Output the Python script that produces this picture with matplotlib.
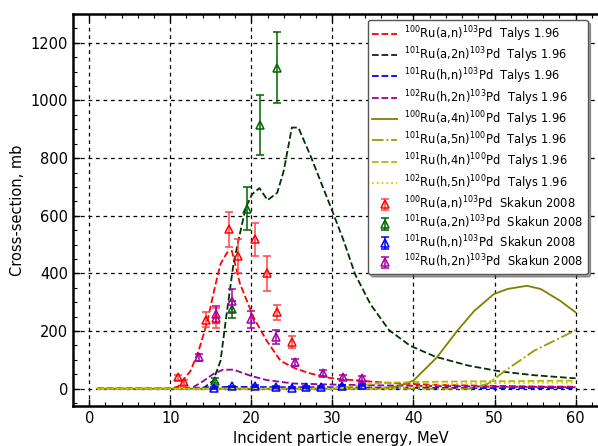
import numpy as np
import matplotlib
matplotlib.use("Agg")
import matplotlib.pyplot as plt
from matplotlib.ticker import MultipleLocator

# ---- TALYS 1.96 excitation functions (energy in MeV, cross-section in mb) ----
e_an = [1, 10, 11, 12.5, 13.5, 14.5, 15.6, 16.2, 17.0, 17.6, 18.6, 20.3, 21.9, 23.6, 25.2, 27, 29.3, 31, 33.5, 35, 38.4, 40, 45, 50, 55, 60]
s_an = [0, 0, 8, 62, 132, 225, 364, 433, 472, 478, 364, 246, 166, 97, 73, 55, 39, 33, 28, 24, 18, 16, 12, 10, 8, 7]

e_a2n = [1, 14, 15.3, 16.2, 17.0, 17.8, 18.4, 19.3, 20.1, 21.0, 22.0, 23.2, 24.0, 25.0, 25.8, 27.3, 29.8, 31.4, 32.8, 34.7, 37.0, 39.6, 42.7, 46.8, 50.7, 54.8, 60]
s_a2n = [0, 0, 28, 97, 270, 433, 513, 628, 675, 696, 654, 680, 756, 906, 906, 808, 630, 513, 397, 293, 203, 149, 111, 80, 60, 47, 36]

e_hn = [1, 11, 13, 15, 17, 20, 25, 30, 35, 40, 50, 60]
s_hn = [0, 0, 3, 5, 6, 6, 5, 5, 4, 3, 2, 2]

e_h2n = [1, 11.5, 12.8, 14, 15.3, 16.5, 17.8, 19.9, 21.9, 25.2, 28, 30.6, 35, 40, 50, 60]
s_h2n = [0, 0, 5, 25, 51, 66, 66, 45, 30, 18, 16, 14, 12, 10, 7, 5]

e_a4n = [1, 36, 38, 40, 42.9, 45.4, 47.5, 49.9, 51.6, 54, 55.7, 58.1, 60]
s_a4n = [0, 0, 8, 28, 109, 201, 270, 328, 346, 357, 346, 305, 265]

e_a5n = [1, 47, 49.1, 51.6, 54.9, 60]
s_a5n = [0, 0, 16, 68, 132, 203]

e_h4n = [1, 30, 33, 36, 40, 45, 50, 55, 60]
s_h4n = [0, 0, 10, 20, 23, 25, 26, 27, 28]

e_h5n = [1, 36, 40, 43, 46, 50, 55, 60]
s_h5n = [0, 0, 6, 14, 18, 20, 21, 21]

# ---- Skakun 2008 measurements ----
x_an = [11.0, 11.7, 14.4, 15.6, 17.3, 18.4, 20.4, 21.9, 23.2, 25.0]
y_an = [39, 22, 240, 245, 553, 461, 519, 400, 265, 162]
d_an = [10, 8, 25, 35, 60, 58, 57, 60, 25, 22]

x_a2n = [15.5, 17.6, 19.5, 21.1, 23.2]
y_a2n = [28, 275, 625, 915, 1114]
d_a2n = [8, 30, 76, 104, 122]

x_hn = [15.4, 17.6, 20.4, 23.1, 25.0, 26.8, 28.6, 31.2, 33.6]
y_hn = [2, 8, 9, 7, 4, 7, 6, 11, 12]
d_hn = [3, 3, 3, 3, 3, 3, 3, 3, 3]

x_h2n = [13.5, 15.6, 17.6, 19.9, 23.1, 25.4, 28.8, 31.3, 33.7]
y_h2n = [109, 258, 305, 241, 180, 91, 54, 39, 36]
d_h2n = [12, 30, 40, 30, 25, 12, 10, 8, 8]

lbl = lambda a, r, b, src: r"$^{%s}$Ru(%s)$^{%s}$Pd  %s" % (a, r, b, src)

fig = plt.figure(figsize=(5.98, 4.46), dpi=100)
ax = fig.add_axes([73 / 598, 40 / 446, 535 / 598, 392 / 446])

ax.plot(e_an, s_an, ls="--", color="red", lw=1.3, label=lbl("100", "a,n", "103", "Talys 1.96"))
ax.plot(e_a2n, s_a2n, ls="--", color="#003300", lw=1.3, label=lbl("101", "a,2n", "103", "Talys 1.96"))
ax.plot(e_hn, s_hn, ls="--", color="blue", lw=1.3, label=lbl("101", "h,n", "103", "Talys 1.96"))
ax.plot(e_h2n, s_h2n, ls="--", color="#990099", lw=1.3, label=lbl("102", "h,2n", "103", "Talys 1.96"))
ax.plot(e_a4n, s_a4n, ls="-", color="#808000", lw=1.3, label=lbl("100", "a,4n", "100", "Talys 1.96"))
ax.plot(e_a5n, s_a5n, ls="-.", color="#999900", lw=1.3, label=lbl("101", "a,5n", "100", "Talys 1.96"))
ax.plot(e_h4n, s_h4n, ls="--", color="#b8b800", lw=1.3, label=lbl("101", "h,4n", "100", "Talys 1.96"))
ax.plot(e_h5n, s_h5n, ls=":", color="#d0d000", lw=1.3, label=lbl("102", "h,5n", "100", "Talys 1.96"))

eb = dict(fmt="^", mfc="none", ms=6, mew=1.1, capsize=3, elinewidth=1.1, capthick=1.0, lw=0)
ax.errorbar(x_an, y_an, yerr=d_an, color="red", ecolor="#ff4444", label=lbl("100", "a,n", "103", "Skakun 2008"), **eb)
ax.errorbar(x_a2n, y_a2n, yerr=d_a2n, color="#006400", ecolor="#006400", label=lbl("101", "a,2n", "103", "Skakun 2008"), **eb)
ax.errorbar(x_hn, y_hn, yerr=d_hn, color="blue", ecolor="blue", label=lbl("101", "h,n", "103", "Skakun 2008"), **eb)
ax.errorbar(x_h2n, y_h2n, yerr=d_h2n, color="#aa00aa", ecolor="#aa00aa", label=lbl("102", "h,2n", "103", "Skakun 2008"), **eb)

ax.set_xlim(-2, 64)
ax.set_ylim(-60, 1300)
ax.xaxis.set_major_locator(MultipleLocator(10))
ax.xaxis.set_minor_locator(MultipleLocator(2))
ax.yaxis.set_major_locator(MultipleLocator(200))
ax.yaxis.set_minor_locator(MultipleLocator(50))
ax.tick_params(which="both", direction="in", top=True, right=True, labelsize=10.5)
ax.tick_params(which="major", length=5, width=1)
ax.tick_params(which="minor", length=3, width=0.8)
for s in ax.spines.values():
    s.set_linewidth(1.8)
ax.grid(True, which="major", color="black", ls=(0, (3, 3)), lw=0.9)

ax.set_xlabel("Incident particle energy, MeV", fontsize=10.5)
ax.set_ylabel("Cross-section, mb", fontsize=10.5)

leg = ax.legend(loc="upper left", bbox_to_anchor=(295 / 535, 0.985), fontsize=8.3,
                shadow=True, fancybox=True, framealpha=1, edgecolor="#555555",
                labelspacing=0.15, handlelength=2.2, handletextpad=0.6,
                borderpad=0.35, borderaxespad=0.0)
leg.set_zorder(10)

fig.savefig("out.png", dpi=100)
